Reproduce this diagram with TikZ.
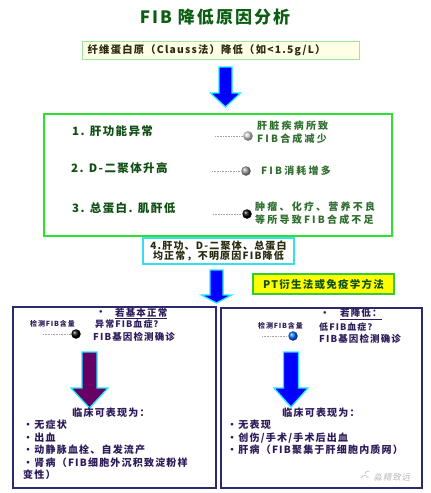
\documentclass[tikz,border=0pt]{standalone}
\usepackage{fontspec}
\setmainfont{Noto Sans CJK SC}
\newfontfamily\cj[LetterSpace=12]{Noto Sans CJK SC}
\newfontfamily\cjw[LetterSpace=22]{Noto Sans CJK SC}
\newfontfamily\cjs[LetterSpace=10,FakeSlant=0.2]{Noto Sans CJK SC}
\usetikzlibrary{positioning}
\definecolor{titlegreen}{HTML}{0B5E12}
\definecolor{itemgreen}{HTML}{0F4F14}
\definecolor{sidegreen}{HTML}{2F6E2F}
\definecolor{cream}{HTML}{FFFFE6}
\definecolor{lightgreen}{HTML}{9EE69E}
\definecolor{boxgreen}{HTML}{2EE02E}
\definecolor{boxcyan}{HTML}{3ADCF0}
\definecolor{ptyellow}{HTML}{FFFF00}
\definecolor{ptborder}{HTML}{33CC33}
\definecolor{navy}{HTML}{2B2B6B}
\definecolor{bottomtext}{HTML}{2C1A5A}
\definecolor{arrowedge}{HTML}{1FE8FF}
\definecolor{arrowblue}{HTML}{0000FF}
\definecolor{arrowpurple}{HTML}{660066}
\definecolor{darktext}{HTML}{2A2A10}
\newcommand{\blockarr}[7]{%
  \filldraw[fill=#7, draw=arrowedge, line width=1.3pt, line join=miter]
    (#1-#5,#2) -- (#1+#5,#2) -- (#1+#5,#3) -- (#1+#6,#3) -- (#1,#4)
    -- (#1-#6,#3) -- (#1-#5,#3) -- cycle;}
\tikzset{
  boxbase/.style={rectangle, inner sep=0pt, anchor=north west},
  itemtxt/.style={anchor=west, inner sep=0pt, text=itemgreen, font=\cj\bfseries\fontsize{11.5}{13}\selectfont},
  sidetxt/.style={anchor=west, inner sep=0pt, align=left, text=sidegreen, font=\cjw\bfseries\fontsize{10}{13}\selectfont},
  dotline/.style={draw=gray!70, densely dotted, line width=0.6pt},
  ballnode/.style={circle, inner sep=0pt, minimum size=9.5pt, ball color=#1},
  btxt/.style={anchor=west, inner sep=0pt, align=left, text=bottomtext, font=\cj\bfseries\fontsize{10}{12.5}\selectfont},
  smalltxt/.style={anchor=west, inner sep=0pt, text=bottomtext, font=\cj\bfseries\fontsize{7}{8}\selectfont},
  midtxt/.style={anchor=west, inner sep=0pt, text=bottomtext, font=\cj\bfseries\fontsize{9.5}{11}\selectfont},
}
\begin{document}
\begin{tikzpicture}[x=1pt,y=-1pt]
\useasboundingbox (0,0) rectangle (431,493);
\fill[white] (0,0) rectangle (431,493);

% title
\node[inner sep=0pt, text=titlegreen, font=\cj\bfseries\fontsize{17}{20}\selectfont] (title) at (215,17) {FIB 降低原因分析};

% box 1
\node[boxbase, fill=cream, draw=lightgreen, line width=1.4pt, minimum width=277pt, minimum height=18pt,
      text width=267pt, align=left, inner xsep=5pt, text=darktext,
      font=\cj\bfseries\fontsize{10.3}{12}\selectfont] (box1) at (82,41) {纤维蛋白原（Clauss法）降低（如<1.5g/L）};

% arrow 1
\blockarr{225.5}{67}{93}{107}{6.5}{15}{arrowblue}

% big green box
\node[boxbase, draw=boxgreen, line width=2pt, minimum width=348pt, minimum height=122pt] (greenbox) at (43,113) {};

\node[itemtxt] (it1) at (72,131) {1. 肝功能异常};
\node[itemtxt] (it2) at (71,168) {2. D-二聚体升高};
\node[itemtxt] (it3) at (72,208) {3. 总蛋白. 肌酐低};

\coordinate (d1) at (215,136);
\coordinate (d2) at (212,171);
\coordinate (d3) at (213,214);
\node[ballnode=gray!35] (b1) at (248,136) {};
\node[ballnode=gray!75] (b2) at (246,171) {};
\node[ballnode=black] (b3) at (247,214) {};
\draw[dotline] (d1) -- (b1.west);
\draw[dotline] (d2) -- (b2.west);
\draw[dotline] (d3) -- (b3.west);

\node[sidetxt] (r1) at (257,132.5) {肝脏疾病所致\\FIB合成减少};
\node[sidetxt] (r2) at (261,171) {FIB消耗增多};
\node[sidetxt] (r3) at (255,213) {肿瘤、化疗、营养不良\\等所导致FIB合成不足};

% box 4
\node[boxbase, fill=white, draw=boxcyan, line width=2pt, minimum width=151pt, minimum height=26pt,
      align=center, text=darktext, font=\cj\bfseries\fontsize{10}{10.5}\selectfont] (box4) at (142,237)
      {4.肝功、D-二聚体、总蛋白\\均正常，不明原因FIB降低};

% PT box
\node[boxbase, fill=ptyellow, draw=ptborder, line width=2pt, minimum width=141pt, minimum height=20pt,
      text=itemgreen, font=\cj\bfseries\fontsize{10.5}{12}\selectfont] (ptbox) at (252,273) {PT衍生法或免疫学方法};

% arrow 2
\blockarr{216.5}{270}{295}{303}{6.5}{15}{arrowblue}

% bottom boxes
\node[boxbase, draw=navy, line width=2pt, minimum width=203pt, minimum height=181pt] (leftbox) at (12,306) {};
\node[boxbase, draw=navy, line width=2pt, minimum width=201pt, minimum height=180pt] (rightbox) at (220,307) {};

% left contents
\node[midtxt] (lbul) at (96,313.5) {•};
\node[midtxt] (lhead) at (115,313.5) {\underline{若基本正常}};
\node[smalltxt] (lmeas) at (30,324) {检测FIB含量};
\node[midtxt, font=\cj\bfseries\fontsize{9}{11}\selectfont] (labn) at (95,324.5) {异常FIB血症？};
\coordinate (ld) at (43,334);
\node[ballnode=black] (lb) at (76,334) {};
\draw[dotline] (ld) -- (lb.west);
\node[midtxt] (lgene) at (93,336.5) {FIB基因检测确诊};

\blockarr{89.5}{352}{388}{408}{7.5}{18.5}{arrowpurple}

\node[btxt, anchor=center] (lclin) at (111,413) {临床可表现为：};
\node[btxt] (llist) at (23,450) {•无症状\\•出血\\•动静脉血栓、自发流产\\•肾病（FIB细胞外沉积致淀粉样\\变性）};

% right contents
\node[midtxt] (rbul) at (320,314) {•};
\node[midtxt] (rhead) at (340,314) {\underline{若降低：}};
\node[smalltxt] (rmeas) at (258,325.5) {检测FIB含量};
\node[midtxt, font=\cj\bfseries\fontsize{9}{11}\selectfont] (rlow) at (319,327) {低FIB血症？};
\coordinate (rd) at (262,336);
\node[ballnode=blue!60!cyan] (rb) at (293,336) {};
\draw[dotline] (rd) -- (rb.west);
\node[midtxt] (rgene) at (319,338.5) {FIB基因检测确诊};

\blockarr{291}{352}{388}{407}{7.5}{17}{arrowblue}

\node[btxt, anchor=center] (rclin) at (321,413) {临床可表现为：};
\node[btxt] (rlist) at (227,437.5) {•无表现\\•创伤/手术/手术后出血\\•肝病（FIB聚集于肝细胞内质网）};

% watermark
\node[inner sep=0pt, text=gray!55, font=\cjs\fontsize{8.5}{10}\selectfont] (wm) at (392,477) {淼精致远};
\draw[gray!55, line width=0.6pt] (361,478) arc (200:340:4) (365,474) arc (180:300:3);
\end{tikzpicture}
\end{document}
